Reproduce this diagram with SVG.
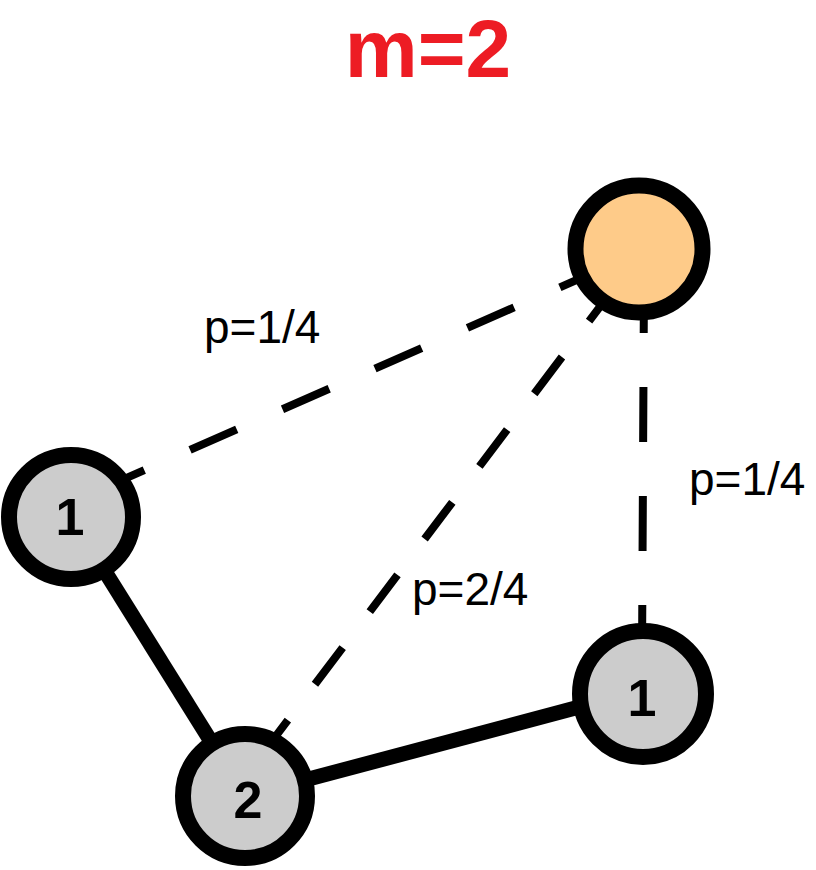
<svg xmlns="http://www.w3.org/2000/svg" width="816" height="870" viewBox="0 0 816 870">
  <style>
    .solid { stroke: #000; stroke-width: 15; fill: none; }
    .dash { stroke: #000; stroke-width: 8; fill: none; }
    .node { stroke: #000; stroke-width: 16; }
    .gray { fill: #CCCCCC; }
    .orange { fill: #FECB89; }
    .num { font-family: "Liberation Sans", Arial, sans-serif; font-weight: bold; font-size: 52px; fill: #000; text-anchor: middle; }
    .lbl { font-family: "Liberation Sans", Arial, sans-serif; font-size: 46px; fill: #000; }
    .title { font-family: "Liberation Sans", Arial, sans-serif; font-weight: bold; font-size: 82px; fill: #ED1C24; text-anchor: middle; }
  </style>
  <rect width="816" height="870" fill="#fff"/>
  <text class="title" x="428" y="77">m=2</text>
  <g id="connectors">
    <line class="solid" x1="71" y1="517" x2="245" y2="796"/>
    <line class="solid" x1="245" y1="796" x2="643" y2="690"/>
    <line class="dash" x1="97.6" y1="490.6" x2="606" y2="267" stroke-dasharray="51 50"/>
    <line class="dash" x1="616.8" y1="284.4" x2="260.3" y2="756.7" stroke-dasharray="46 45"/>
    <line class="dash" x1="644" y1="278" x2="642" y2="660" stroke-dasharray="55 54"/>
  </g>
  <g id="labels">
    <text class="lbl" x="204" y="343">p=1/4</text>
    <text class="lbl" x="412" y="605">p=2/4</text>
    <text class="lbl" x="689" y="495">p=1/4</text>
  </g>
  <g id="node-top">
    <circle class="node orange" cx="639" cy="249" r="63.5"/>
  </g>
  <g id="node-left">
    <circle class="node gray" cx="71" cy="517" r="62"/>
    <text class="num" x="70" y="535">1</text>
  </g>
  <g id="node-bottom">
    <circle class="node gray" cx="245" cy="796" r="62"/>
    <text class="num" x="248" y="818">2</text>
  </g>
  <g id="node-right">
    <circle class="node gray" cx="643" cy="694" r="63"/>
    <text class="num" x="642" y="716">1</text>
  </g>
</svg>
